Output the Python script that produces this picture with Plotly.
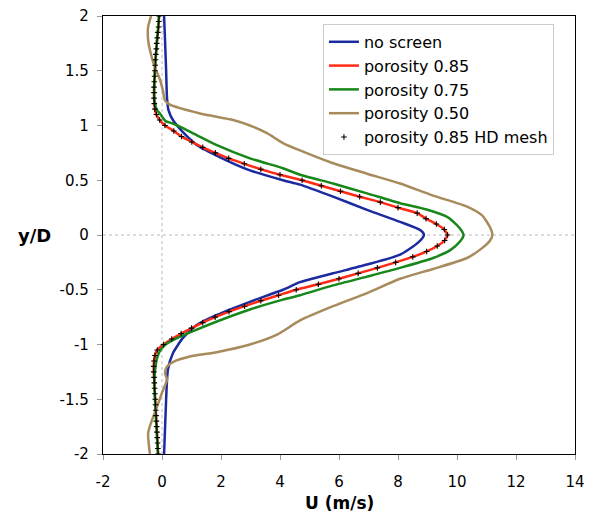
import plotly.graph_objects as go

# ---------------- data ----------------
y_blue = [2.0, 1.8, 1.5, 1.25, 1.14, 1.05, 0.94, 0.82, 0.71, 0.59, 0.50, 0.46, 0.35, 0.23, 0.12, 0.045, 0.0,
          -0.07, -0.18, -0.27, -0.35, -0.43, -0.50, -0.61, -0.73, -0.82, -0.94, -1.08, -1.23, -1.5, -2.0]
u_blue = [0.07, 0.10, 0.14, 0.17, 0.22, 0.37, 0.71, 1.19, 1.97, 2.98, 4.1, 4.68, 5.8, 6.95, 8.07, 8.75, 8.88,
          8.68, 8.07, 6.95, 5.8, 4.68, 4.1, 2.98, 1.86, 1.19, 0.71, 0.37, 0.2, 0.14, 0.07]

y_red = [2.0, 1.95, 1.9, 1.85, 1.8, 1.75, 1.7, 1.65, 1.6, 1.55, 1.5, 1.45, 1.4, 1.35, 1.3, 1.25, 1.2, 1.15, 1.1, 1.05,
         1.0, 0.95, 0.9, 0.85, 0.8, 0.75, 0.7, 0.65, 0.6, 0.55, 0.5, 0.45, 0.4, 0.35, 0.3, 0.25, 0.2, 0.15, 0.1, 0.05,
         0.0, -0.05, -0.1, -0.15, -0.2, -0.25, -0.3, -0.35, -0.4, -0.45, -0.5, -0.55, -0.6, -0.65, -0.7, -0.75, -0.8,
         -0.85, -0.9, -0.95, -1.0, -1.05, -1.1, -1.15, -1.2, -1.25, -1.3, -1.35, -1.4, -1.45, -1.5, -1.55, -1.6,
         -1.65, -1.7, -1.75, -1.8, -1.85, -1.9, -1.95, -2.0]
u_red = [-0.10, -0.11, -0.12, -0.14, -0.16, -0.18, -0.19, -0.21, -0.22, -0.23, -0.24, -0.25, -0.26, -0.27, -0.27,
         -0.27, -0.26, -0.24, -0.19, -0.08, 0.10, 0.40, 0.66, 1.01, 1.38, 1.81, 2.26, 2.79, 3.35, 4.0, 4.75, 5.4,
         6.05, 6.7, 7.4, 8.0, 8.65, 8.95, 9.3, 9.57, 9.68,
         9.58, 9.33, 8.97, 8.5, 7.92, 7.3, 6.65, 6.0, 5.3, 4.55, 3.95, 3.35, 2.8, 2.27, 1.8, 1.38, 1.0, 0.65, 0.33,
         0.05, -0.16, -0.24, -0.27, -0.28, -0.28, -0.27, -0.26, -0.25, -0.24, -0.23, -0.22, -0.21, -0.2, -0.19,
         -0.18, -0.17, -0.16, -0.15, -0.14, -0.13]

y_green = [2.0, 1.5, 1.25, 1.14, 1.11, 1.07, 1.04, 1.02, 0.99, 0.91, 0.82, 0.70, 0.61, 0.55, 0.47, 0.38, 0.29,
           0.23, 0.16, 0.06, 0.0, -0.06, -0.14, -0.21, -0.30, -0.38, -0.46, -0.55, -0.59, -0.68, -0.79, -0.89,
           -0.96, -1.0, -1.04, -1.1, -1.2, -1.35, -1.6, -2.0]
u_green = [-0.10, -0.24, -0.26, -0.17, -0.07, 0.03, 0.12, 0.35, 0.61, 1.19, 1.86, 2.98, 4.1, 4.68, 5.8, 6.95, 8.07,
           9.0, 9.7, 10.1, 10.22, 10.1, 9.76, 9.19, 8.07, 6.95, 5.8, 4.68, 4.1, 2.98, 1.86, 0.95,
           0.37, 0.12, -0.02, -0.14, -0.22, -0.26, -0.22, -0.14]

y_tan = [2.0, 1.9, 1.78, 1.69, 1.53, 1.42, 1.32, 1.23, 1.19, 1.11, 1.05, 1.0, 0.93, 0.84, 0.77, 0.66, 0.56, 0.47,
         0.36, 0.26, 0.18, 0.07, 0.0, -0.05, -0.12, -0.21, -0.31, -0.40, -0.53, -0.65, -0.78, -0.91, -1.0, -1.07,
         -1.11, -1.16, -1.2, -1.26, -1.32, -1.44, -1.57, -1.69, -1.81, -2.0]
u_tan = [-0.37, -0.47, -0.47, -0.41, -0.24, -0.07, 0.03, 0.1, 0.27, 1.29, 2.41, 2.98, 3.56, 4.1, 4.7, 5.75, 6.95,
         8.07, 9.19, 10.34, 10.85, 11.12, 11.2, 11.12, 10.85, 10.34, 9.19, 8.07, 6.95, 5.8, 4.68, 3.9, 2.98, 1.86,
         0.95, 0.37, 0.17, 0.1, 0.17, 0.0, -0.17, -0.34, -0.47, -0.41]

# HD mesh points coincide with the porosity 0.85 curve
y_hd = y_red
u_hd = u_red

x_ticks = [-2, 0, 2, 4, 6, 8, 10, 12, 14]
y_ticks = [-2, -1.5, -1, -0.5, 0, 0.5, 1, 1.5, 2]
y_ticktext = ["-2", "-1.5", "-1", "-0.5", "0", "0.5", "1", "1.5", "2"]
x_ticktext = ["-2", "0", "2", "4", "6", "8", "10", "12", "14"]

# ---------------- figure ----------------
FONT = "DejaVu Sans"
fig = go.Figure()

fig.add_trace(go.Scatter(x=u_blue, y=y_blue, mode="lines", name="no screen",
                         line=dict(color="#1c2aa0", width=2.5, shape="spline", smoothing=0.6)))
fig.add_trace(go.Scatter(x=u_red, y=y_red, mode="lines", name="porosity 0.85",
                         line=dict(color="#ff2a14", width=2.5, shape="spline", smoothing=0.4)))
fig.add_trace(go.Scatter(x=u_green, y=y_green, mode="lines", name="porosity 0.75",
                         line=dict(color="#17871a", width=2.5, shape="spline", smoothing=0.6)))
fig.add_trace(go.Scatter(x=u_tan, y=y_tan, mode="lines", name="porosity 0.50",
                         line=dict(color="#a88b5c", width=2.5, shape="spline", smoothing=0.6)))
fig.add_trace(go.Scatter(x=u_hd, y=y_hd, mode="markers", name="porosity 0.85 HD mesh",
                         marker=dict(symbol="cross-thin", size=4, color="black",
                                     line=dict(color="black", width=1.1))))

# dashed reference lines at x=0 and y=0
fig.add_shape(type="line", xref="x", yref="paper", x0=0, x1=0, y0=0, y1=1,
              line=dict(color="#bbbbbb", width=1, dash="3px,3px"), layer="below")
fig.add_shape(type="line", xref="paper", yref="y", x0=0, x1=1, y0=0, y1=0,
              line=dict(color="#bbbbbb", width=1, dash="3px,3px"), layer="below")

fig.update_layout(
    width=579, height=506,
    margin=dict(l=95, r=12, t=8, b=60, autoexpand=False),
    paper_bgcolor="white", plot_bgcolor="white",
    font=dict(family=FONT, size=15, color="black"),
    showlegend=True,
    legend=dict(x=0.466, y=0.982, xanchor="left", yanchor="top",
                bgcolor="white", bordercolor="#cccccc", borderwidth=1,
                font=dict(family=FONT, size=16), tracegroupgap=0,
                itemwidth=30),
)

fig.update_xaxes(range=[-2, 14], tickvals=x_ticks, ticktext=x_ticktext, showgrid=False, zeroline=False,
                 showline=True, linecolor="black", linewidth=1.2, mirror=True, automargin=False,
                 ticks="outside", ticklen=5, tickcolor="#999999", ticklabeloverflow="allow",
                 ticklabelstandoff=9, tickfont=dict(size=15))
fig.update_yaxes(range=[-2, 2], tickvals=y_ticks, ticktext=y_ticktext, showgrid=False, zeroline=False,
                 showline=True, linecolor="black", linewidth=1.2, mirror=True, automargin=False,
                 ticks="outside", ticklen=5, tickcolor="#999999", ticklabeloverflow="allow",
                 ticklabelstandoff=5, tickfont=dict(size=15))

fig.add_annotation(text="<b>y/D</b>", xref="paper", yref="paper", x=-0.145, y=0.5,
                   showarrow=False, font=dict(size=18), xanchor="center", yanchor="middle")
fig.add_annotation(text="<b>U (m/s)</b>", xref="paper", yref="paper", x=0.5, y=-0.111,
                   showarrow=False, font=dict(size=17), xanchor="center", yanchor="middle")

fig.write_html("out.html")
